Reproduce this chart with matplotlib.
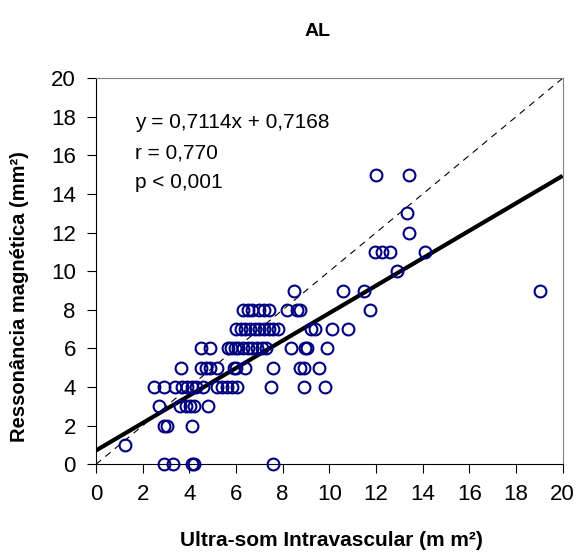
import numpy as np
import matplotlib
matplotlib.use("Agg")
import matplotlib.pyplot as plt

plt.rcParams['font.family'] = ['Liberation Sans', 'DejaVu Sans']

# pontos, agrupados pelo valor de RM (mm2)
rows = {
    0: [2.9, 3.3, 4.1, 4.2, 7.6],
    1: [1.24],
    2: [2.9, 3.05, 4.1],
    3: [2.7, 3.6, 3.85, 4.05, 4.2, 4.8],
    4: [2.5, 2.9, 3.4, 3.7, 3.9, 4.1, 4.3, 4.6, 5.2, 5.4, 5.6, 5.85, 6.05, 7.5, 8.9, 9.8],
    5: [3.65, 4.5, 4.7, 4.9, 5.2, 5.9, 6.0, 6.4, 7.6, 8.75, 8.9, 9.55],
    6: [4.5, 4.9, 5.65, 5.8, 5.95, 6.1, 6.3, 6.5, 6.7, 6.9, 7.1, 7.3, 8.35, 8.95, 9.05, 9.9],
    7: [6.0, 6.2, 6.4, 6.6, 6.8, 7.0, 7.2, 7.4, 7.6, 7.8, 9.2, 9.4, 10.1, 10.8],
    8: [6.3, 6.5, 6.7, 7.0, 7.2, 7.4, 8.2, 8.6, 8.75, 11.75],
    9: [8.5, 10.6, 11.5, 19.05],
    10: [12.9],
    11: [11.95, 12.25, 12.6, 14.1],
    12: [13.4],
    13: [13.35],
    15: [12.0, 13.4],
}
ivus = []
rm = []
for k in rows:
    for v in rows[k]:
        ivus.append(v)
        rm.append(k)

slope = 0.7114
intercept = 0.7168
eq_lines = ["y = 0,7114x + 0,7168", "r = 0,770", "p < 0,001"]

fig = plt.figure(figsize=(5.8, 5.59), dpi=100)
ax = fig.add_axes([0.1655, 0.1694, 0.8045, 0.6906])

xl = np.array([0, 20])
ax.plot(xl, xl, color="black", lw=0.8, ls=(0, (6, 5)), zorder=1)
ax.plot(xl, slope * xl + intercept, color="black", lw=3, zorder=2, solid_capstyle="butt")
ax.plot(ivus, rm, ls="none", marker="o", ms=8.5, mfc="none", mec="#000080", mew=1.5,
        zorder=3, clip_on=False)

ax.set_xlim(0, 20)
ax.set_ylim(0, 20)
ax.set_xticks(range(0, 21, 2))
ax.set_yticks(range(0, 21, 2))
ax.tick_params(direction="out", length=6.5, width=0.8, labelsize=16, pad=8)
for s in ["left", "bottom"]:
    ax.spines[s].set_color("black")
for s in ["top", "right"]:
    ax.spines[s].set_color("#808080")

fig.text(331 / 580, 1 - 541 / 559, "Ultra-som Intravascular (m m²)", ha="center", va="center",
         fontsize=15, fontweight="bold")
fig.text(20 / 580, 1 - 297 / 559, "Ressonância magnética (mm²)",
         ha="center", va="center", rotation=90, fontsize=14.5, fontweight="bold")
fig.text(318 / 580, 1 - 32 / 559, "AL", ha="center", va="center", fontsize=14, fontweight="bold")

for i, t in enumerate(eq_lines):
    ax.text(1.67, 17.7 - 1.55 * i, t, fontsize=15, va="center", ha="left")

fig.savefig("out.png", dpi=100)
